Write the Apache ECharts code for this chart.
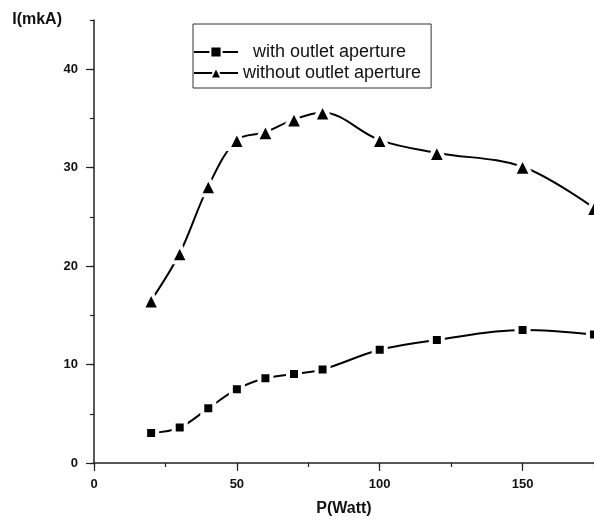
<!DOCTYPE html>
<html lang="en">

<head>
  <meta charset="UTF-8">
  <title>I vs P</title>
  <script src="https://cdn.jsdelivr.net/npm/echarts@6/dist/echarts.min.js"></script>
  <style>
    html, body {
      margin: 0;
      padding: 0;
      background: #fff;
    }

    #chart {
      width: 594px;
      height: 528px;
    }
  </style>
</head>

<body>
  <div id="chart"></div>

  <script>
    // power values (x) and currents
    var power = [20, 30, 40, 50, 60, 70, 80, 100, 120, 150, 175];
    var withAperture = [3.05, 3.6, 5.55, 7.5, 8.6, 9.05, 9.5, 11.5, 12.5, 13.5, 13.05];
    var withoutAperture = [16.5, 21.3, 28.1, 32.8, 33.6, 34.9, 35.6, 32.8, 31.5, 30.1, 25.9];
    var xMajor = [0, 50, 100, 150];
    var yMajor = [0, 10, 20, 30, 40];
    var seriesNames = ['with outlet aperture', 'without outlet aperture'];

    function pairs(ys) {
      return power.map(function (p, i) { return [p, ys[i]]; });
    }

    var chart = echarts.init(document.getElementById('chart'));
    var font = 'Liberation Sans, Arial, sans-serif';
    var axisColor = '#222';

    var option = {
      backgroundColor: '#fff',
      animation: false,
      grid: { left: 94, top: 20, right: 0, bottom: 65 },
      legend: {
        orient: 'vertical',
        left: 193,
        top: 24,
        align: 'left',
        itemWidth: 44,
        itemHeight: 14,
        itemGap: 3,
        padding: [19, 10, 6, 0],
        borderColor: '#333',
        borderWidth: 1,
        formatter: function (name) {
          return name === seriesNames[0] ? '  ' + name : name;
        },
        textStyle: { fontFamily: font, fontSize: 18, color: '#111' },
        data: seriesNames
      },
      xAxis: [{
        type: 'value',
        min: 0,
        max: 175,
        name: 'P(Watt)',
        nameLocation: 'middle',
        nameGap: 38,
        nameTextStyle: { fontFamily: font, fontSize: 16, fontWeight: 'bold', color: '#111' },
        axisLine: { lineStyle: { color: axisColor, width: 1.5 } },
        axisTick: { show: true, length: 8, customValues: xMajor, lineStyle: { color: axisColor, width: 1.2 } },
        axisLabel: { customValues: xMajor, margin: 15, fontFamily: font, fontSize: 13, fontWeight: 'bold', color: '#111' },
        splitLine: { show: false }
      }, {
        type: 'value',
        position: 'bottom',
        min: 0,
        max: 175,
        interval: 25,
        axisLine: { show: false },
        axisTick: { show: true, length: 4, lineStyle: { color: axisColor, width: 1.2 } },
        axisLabel: { show: false },
        splitLine: { show: false }
      }],
      yAxis: [{
        type: 'value',
        min: 0,
        max: 45,
        name: 'I(mkA)',
        nameLocation: 'end',
        nameGap: 0,
        nameTextStyle: {
          fontFamily: font, fontSize: 16, fontWeight: 'bold', color: '#111',
          align: 'right', verticalAlign: 'middle', padding: [0, 32, 0, 0]
        },
        axisLine: { show: true, lineStyle: { color: axisColor, width: 1.5 } },
        axisTick: { show: true, length: 8, customValues: yMajor, lineStyle: { color: axisColor, width: 1.2 } },
        axisLabel: { customValues: yMajor, margin: 16, fontFamily: font, fontSize: 13, fontWeight: 'bold', color: '#111' },
        splitLine: { show: false }
      }, {
        type: 'value',
        position: 'left',
        min: 0,
        max: 45,
        interval: 5,
        axisLine: { show: false },
        axisTick: { show: true, length: 4, lineStyle: { color: axisColor, width: 1.2 } },
        axisLabel: { show: false },
        splitLine: { show: false }
      }],
      series: [{
        name: seriesNames[0],
        type: 'line',
        smooth: 0.35,
        data: pairs(withAperture),
        symbol: 'rect',
        symbolSize: 12,
        lineStyle: { color: '#000', width: 2 },
        itemStyle: { color: '#000', borderColor: '#fff', borderWidth: 4 }
      }, {
        name: seriesNames[1],
        type: 'line',
        smooth: 0.35,
        data: pairs(withoutAperture),
        symbol: 'triangle',
        symbolSize: 18,
        lineStyle: { color: '#000', width: 2 },
        itemStyle: { color: '#000', borderColor: '#fff', borderWidth: 4 }
      }]
    };

    chart.setOption(option);
  </script>
</body>

</html>
